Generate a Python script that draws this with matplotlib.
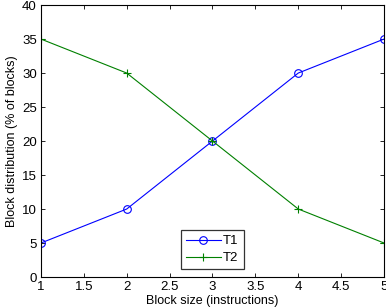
import matplotlib
matplotlib.use("Agg")
import matplotlib.pyplot as plt

plt.rcParams['font.family'] = ['Liberation Sans', 'DejaVu Sans']

block_size = [1, 2, 3, 4, 5]
t1 = [5, 10, 20, 30, 35]
t2 = [35, 30, 20, 10, 5]
xticks = [1, 1.5, 2, 2.5, 3, 3.5, 4, 4.5, 5]
yticks = [0, 5, 10, 15, 20, 25, 30, 35, 40]

fig = plt.figure(figsize=(3.86, 3.08), dpi=100)
ax = fig.add_axes([0.106, 0.1006, 0.889, 0.883])
ax.plot(block_size, t1, color=(0, 0, 1), marker='o', markersize=5.5, markerfacecolor='none',
        linewidth=0.8, markeredgewidth=0.8, label='T1')
ax.plot(block_size, t2, color=(0, 0.5, 0), marker='+', markersize=6,
        linewidth=0.8, markeredgewidth=0.8, label='T2')
ax.set_xlim(1, 5)
ax.set_ylim(0, 40)
ax.set_xticks(xticks)
ax.set_xticklabels(['1', '1.5', '2', '2.5', '3', '3.5', '4', '4.5', '5'])
ax.set_yticks(yticks)
ax.tick_params(direction='in', top=True, right=True, labelsize=9.5, length=3, width=0.6, pad=3)
for s in ax.spines.values():
    s.set_linewidth(0.8)
ax.set_xlabel('Block size (instructions)', fontsize=9, labelpad=1)
ax.set_ylabel('Block distribution (% of blocks)', fontsize=9, labelpad=3)
leg = ax.legend(loc='lower center', bbox_to_anchor=(0.5, 0.028), fontsize=9.5, frameon=True,
                fancybox=False, edgecolor='black', handlelength=2.6, borderpad=0.4,
                labelspacing=0.35, handletextpad=0.2, borderaxespad=0)
leg.get_frame().set_linewidth(0.9)
fig.savefig('out.png', dpi=100)
